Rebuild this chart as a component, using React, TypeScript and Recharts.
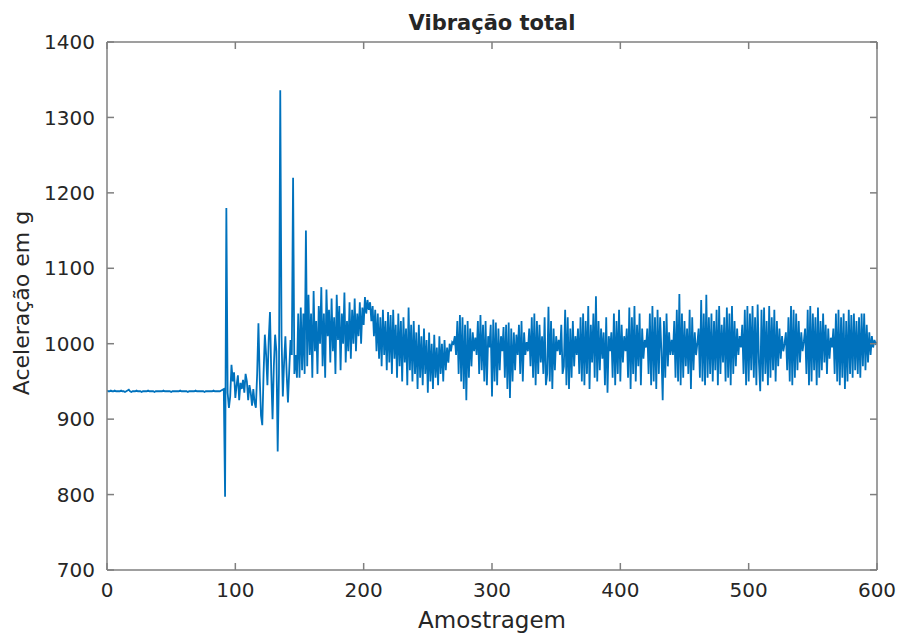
import { LineChart, Line, XAxis, YAxis, Label } from "recharts"

// aceleração total por amostra, amostras 0..600
const vibracao = [
  938, 937, 937, 938, 937, 937, 938, 937, 937, 937,
  937, 938, 937, 937, 936, 937, 938, 939, 937, 936,
  937, 937, 937, 938, 937, 937, 937, 936, 937, 937,
  937, 937, 938, 937, 937, 937, 937, 936, 937, 937,
  937, 937, 937, 937, 938, 937, 937, 937, 937, 937,
  936, 937, 937, 937, 937, 937, 937, 938, 937, 937,
  937, 937, 937, 936, 937, 937, 937, 937, 937, 938,
  937, 937, 937, 937, 937, 937, 936, 937, 937, 937,
  937, 937, 937, 938, 937, 937, 937, 937, 937, 938,
  939, 940, 797, 1180, 935, 915, 930, 972, 950, 962,
  928, 945, 958, 925, 948, 940, 952, 935, 960, 950,
  925, 945, 935, 918, 940, 922, 915, 960, 1027, 955,
  905, 892, 960, 1012, 985, 945, 1005, 1042, 960, 900,
  970, 1012, 990, 857, 960, 1336, 1010, 930, 975, 1010,
  960, 922, 965, 1005, 985, 1220, 960, 985, 955, 1040,
  955, 1048, 965, 1040, 960, 1150, 970, 1065, 985, 1040,
  955, 1070, 990, 1030, 960, 1050, 1000, 1075, 970, 1040,
  955, 1072, 1010, 1045, 975, 1060, 990, 1035, 960, 1065,
  1005, 1050, 965, 1040, 1000, 1068, 975, 1030, 990, 1055,
  980, 1045, 1000, 1060, 990, 1040, 1010, 1055, 1000, 1048,
  1025, 1062, 1040, 1058, 1045, 1055, 1030, 1050, 1010, 1045,
  990, 1040, 980, 1035, 970, 1045, 985, 1030, 965, 1042,
  975, 1038, 960, 1045, 980, 1025, 955, 1040, 970, 1030,
  950, 1035, 975, 1020, 945, 1048, 965, 1025, 950, 1030,
  960, 1015, 940, 1025, 955, 1010, 945, 1020, 960, 1005,
  935, 1015, 950, 1000, 940, 1012, 955, 995, 945, 1010,
  960, 1000, 950, 1005, 965, 995, 975, 1000, 990, 1002,
  1000, 1010, 985, 1030, 960, 1038, 950, 1035, 940, 1025,
  925, 1030, 955, 1020, 970, 1015, 990, 1008, 985, 1030,
  960, 1038, 965, 1025, 950, 1030, 945, 1010, 995, 1025,
  930, 1032, 950, 1028, 945, 1020, 965, 1010, 990, 1022,
  955, 1025, 940, 1028, 928, 1020, 950, 1015, 965, 1012,
  985, 1025, 960, 1030, 950, 1015, 985, 1002, 990, 1020,
  970, 1035, 955, 1040, 945, 1030, 960, 1025, 975, 1010,
  960, 1035, 945, 960, 1049, 950, 1030, 940, 1020, 965,
  1010, 990, 1005, 985, 1025, 960, 970, 1045, 945, 1035,
  940, 1020, 955, 1030, 970, 1010, 985, 1020, 960, 1035,
  950, 1040, 945, 1030, 960, 1050, 940, 1025, 975, 1040,
  955, 1063, 950, 1030, 965, 1020, 980, 1015, 945, 1035,
  935, 1010, 990, 1015, 955, 1040, 945, 1030, 960, 1045,
  950, 1025, 975, 1010, 990, 1020, 955, 1048, 940, 1035,
  960, 1050, 950, 1025, 970, 1040, 945, 1020, 980, 1005,
  995, 1020, 960, 1040, 945, 1050, 950, 1035, 940, 1045,
  960, 1035, 990, 925, 1030, 955, 1040, 970, 1015, 985,
  1005, 985, 1030, 955, 1045, 950, 1066, 945, 1040, 955,
  1030, 970, 1020, 960, 1045, 940, 1035, 965, 1015, 985,
  1000, 1020, 955, 1058, 950, 1040, 945, 1065, 955, 1035,
  960, 1040, 950, 1030, 965, 1045, 945, 1050, 960, 1025,
  975, 1035, 950, 1048, 955, 1040, 945, 1050, 960, 1030,
  970, 1020, 985, 1010, 995, 1025, 960, 1045, 945, 1050,
  950, 1040, 965, 1050, 955, 1035, 945, 1052, 975, 937,
  1045, 950, 1048, 960, 1030, 945, 1050, 955, 1035, 965,
  1045, 950, 1030, 970, 1020, 980, 1010, 990, 1000, 1015,
  965, 1035, 950, 1050, 945, 1045, 955, 1040, 965, 1030,
  975, 1015, 990, 1003, 1020, 960, 1045, 945, 1050, 950,
  1040, 965, 1035, 945, 1048, 955, 1030, 965, 1040, 975,
  1025, 960, 1020, 980, 1008, 995, 1020, 960, 1040, 950,
  1045, 945, 1035, 955, 1040, 940, 1030, 950, 1045, 960,
  1038, 955, 1040, 965, 1030, 960, 1035, 955, 1040, 970,
  1040, 965, 1025, 975, 1015, 985, 1010, 995, 1005, 1000,
  1002,
]

const xTicks = [0, 100, 200, 300, 400, 500, 600]
const yTicks = [700, 800, 900, 1000, 1100, 1200, 1300, 1400]

const data = vibracao.map((g, amostra) => ({ amostra, g }))

const axisColor = "#7f7f7f"
const textColor = "#262626"
const font = "DejaVu Sans"
const tickStyle = { fill: textColor, fontSize: 20, fontFamily: font }
const blank = () => ""

export default function App() {
  return (
    <div style={{ position: "absolute", left: 0, top: 0, background: "#fff" }}>
      <LineChart width={898} height={637} data={data} margin={{ top: 0, right: 0, bottom: 0, left: 0 }}>
        <XAxis
          dataKey="amostra"
          type="number"
          domain={[0, 600]}
          ticks={xTicks}
          allowDataOverflow
          height={67}
          stroke={axisColor}
          strokeWidth={1.5}
          tickSize={-7}
          tickMargin={20}
          tick={tickStyle}
        >
          <Label
            content={() => (
              <text x={492} y={628} textAnchor="middle" fill={textColor} fontSize={23} fontFamily={font}>
                Amostragem
              </text>
            )}
          />
        </XAxis>
        <XAxis
          xAxisId="top"
          orientation="top"
          type="number"
          domain={[0, 600]}
          ticks={xTicks}
          allowDataOverflow
          height={42}
          stroke={axisColor}
          strokeWidth={1.5}
          tickSize={-7}
          tickFormatter={blank}
        >
          <Label
            content={() => (
              <text x={492} y={30} textAnchor="middle" fill={textColor} fontSize={21} fontWeight="bold" fontFamily={font}>
                Vibração total
              </text>
            )}
          />
        </XAxis>
        <YAxis
          type="number"
          domain={[700, 1400]}
          ticks={yTicks}
          allowDataOverflow
          width={107}
          stroke={axisColor}
          strokeWidth={1.5}
          tickSize={-7}
          tickMargin={19}
          tick={tickStyle}
        >
          <Label
            content={() => (
              <text
                x={29}
                y={303}
                transform="rotate(-90, 29, 303)"
                textAnchor="middle"
                fill={textColor}
                fontSize={22}
                fontFamily={font}
              >
                Aceleração em g
              </text>
            )}
          />
        </YAxis>
        <YAxis
          yAxisId="right"
          orientation="right"
          type="number"
          domain={[700, 1400]}
          ticks={yTicks}
          allowDataOverflow
          width={21}
          stroke={axisColor}
          strokeWidth={1.5}
          tickSize={-7}
          tickFormatter={blank}
        />
        <Line
          dataKey="g"
          type="linear"
          stroke="#0072BD"
          strokeWidth={1.8}
          dot={false}
          isAnimationActive={false}
        />
      </LineChart>
    </div>
  )
}
